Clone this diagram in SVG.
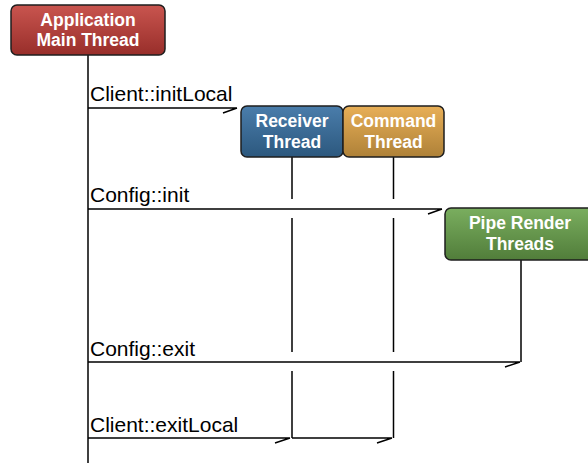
<svg xmlns="http://www.w3.org/2000/svg" width="588" height="463" viewBox="0 0 588 463">
<style>
.box{stroke:#1e1e1e;stroke-width:1.5}
.nl{font-family:"Liberation Sans",Arial,sans-serif;font-weight:bold;font-size:17.5px;fill:#fff;text-anchor:middle}
.ml{font-family:"Liberation Sans",Arial,sans-serif;font-size:21px;fill:#000}
.ln{stroke:#000;stroke-width:1.5;fill:none}
</style>
<defs>
<linearGradient id="gr" x1="0" y1="0" x2="0" y2="1"><stop offset="0" stop-color="#c9554f"/><stop offset="1" stop-color="#982e2a"/></linearGradient>
<linearGradient id="gb" x1="0" y1="0" x2="0" y2="1"><stop offset="0" stop-color="#4a7dab"/><stop offset="1" stop-color="#2c587e"/></linearGradient>
<linearGradient id="go" x1="0" y1="0" x2="0" y2="1"><stop offset="0" stop-color="#e8af57"/><stop offset="1" stop-color="#ae8138"/></linearGradient>
<linearGradient id="gg" x1="0" y1="0" x2="0" y2="1"><stop offset="0" stop-color="#7aae5f"/><stop offset="1" stop-color="#517d3a"/></linearGradient>
</defs>
<g id="lifelines">
<line class="ln" x1="88" y1="55" x2="88" y2="463"/>
<path class="ln" d="M292 157V199M292 218V352M292 371V438"/>
<path class="ln" d="M393.5 157V199M393.5 218V352M393.5 371V438"/>
<line class="ln" x1="521" y1="260" x2="521" y2="362"/>
</g>
<g id="connectors">
<path class="ln" d="M88 108H237M223 113L237 108"/>
<path class="ln" d="M88 209H442M428 214L442 209"/>
<path class="ln" d="M88 362H520M505 367L520 362"/>
<path class="ln" d="M88 438H290M275 443L290 438"/>
<path class="ln" d="M292 438H392M377 443L392 438"/>
</g>
<g id="labels">
<text class="ml" x="90" y="101">Client::initLocal</text>
<text class="ml" x="90" y="202">Config::init</text>
<text class="ml" x="90" y="356">Config::exit</text>
<text class="ml" x="90" y="432">Client::exitLocal</text>
</g>
<g id="main">
<rect class="box" x="11" y="5" width="154" height="50" rx="6" fill="url(#gr)"/>
<text class="nl" x="88" y="26">Application</text>
<text class="nl" x="88" y="46">Main Thread</text>
</g>
<g id="receiver">
<rect class="box" x="241" y="106" width="102" height="51" rx="6" fill="url(#gb)"/>
<text class="nl" x="292" y="127">Receiver</text>
<text class="nl" x="292" y="148">Thread</text>
</g>
<g id="command">
<rect class="box" x="343" y="106" width="101" height="51" rx="6" fill="url(#go)"/>
<text class="nl" x="393.5" y="127">Command</text>
<text class="nl" x="393.5" y="148">Thread</text>
</g>
<g id="pipe">
<rect class="box" x="445" y="208" width="160" height="52" rx="6" fill="url(#gg)"/>
<text class="nl" x="520" y="229">Pipe Render</text>
<text class="nl" x="520" y="250">Threads</text>
</g>
</svg>
